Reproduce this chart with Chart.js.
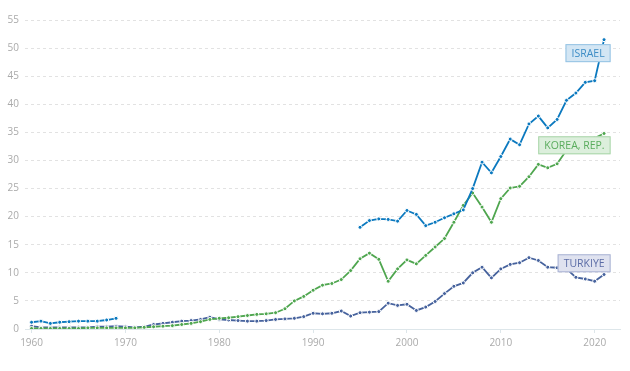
<!DOCTYPE html>
<html lang="en">
<head>
    <meta charset="UTF-8">
    <title>Israel, Korea, Turkiye</title>
    <script src="https://cdn.jsdelivr.net/npm/chart.js"></script>
    <style>
        html, body { margin: 0; padding: 0; background: #fff; }
        #chart-container { width: 630px; height: 371px; }
    </style>
</head>
<body>

<div id="chart-container">
    <canvas id="mainChart"></canvas>
</div>

<script>
    // years on the x axis
    const years = Array.from({ length: 62 }, (_, i) => 1960 + i);
    const xTicks = [1960, 1970, 1980, 1990, 2000, 2010, 2020];

    // Israel: 1960-1969, no data 1970-1994, then 1995-2021
    const israel = [
        1.2, 1.4, 1.0, 1.2, 1.3, 1.4, 1.4, 1.4, 1.6, 1.9,
        null, null, null, null, null, null, null, null, null, null,
        null, null, null, null, null, null, null, null, null, null,
        null, null, null, null, null,
        18.1, 19.3, 19.6, 19.5, 19.2,
        21.1, 20.4, 18.4, 19.0, 19.8, 20.5, 21.2, 25.0, 29.7, 27.8,
        30.7, 33.8, 32.8, 36.5, 37.9, 35.8, 37.3, 40.7, 42.0, 43.9,
        44.2, 51.5
    ];

    const korea = [
        0.1, 0.1, 0.1, 0.1, 0.1, 0.1, 0.2, 0.2, 0.2, 0.2,
        0.2, 0.2, 0.3, 0.4, 0.5, 0.6, 0.8, 1.0, 1.3, 1.7,
        1.9, 2.0, 2.2, 2.4, 2.6, 2.7, 2.9, 3.6, 5.0, 5.8,
        6.9, 7.8, 8.1, 8.8, 10.4, 12.5, 13.5, 12.4, 8.5, 10.7,
        12.3, 11.6, 13.1, 14.6, 16.1, 19.0, 22.0, 24.2, 21.7, 19.0,
        23.2, 25.1, 25.4, 27.1, 29.3, 28.7, 29.4, 31.8, 33.0, 33.5,
        34.0, 34.8
    ];

    const turkiye = [
        0.5, 0.3, 0.3, 0.3, 0.3, 0.3, 0.3, 0.4, 0.4, 0.5,
        0.4, 0.3, 0.4, 0.8, 1.0, 1.2, 1.4, 1.5, 1.7, 2.1,
        1.7, 1.6, 1.5, 1.4, 1.4, 1.5, 1.7, 1.8, 1.9, 2.2,
        2.8, 2.7, 2.8, 3.2, 2.3, 2.9, 3.0, 3.1, 4.6, 4.2,
        4.4, 3.3, 3.9, 4.9, 6.3, 7.6, 8.2, 10.0, 11.0, 9.1,
        10.7, 11.5, 11.8, 12.7, 12.2, 11.0, 10.9, 10.7, 9.2, 8.9,
        8.5, 9.7
    ];

    const seriesNames = ['ISRAEL', 'KOREA, REP.', 'TURKIYE'];
    // value at which each end label sits
    const labelValues = [49.1, 32.7, 11.7];

    const colors = ['#0b79bf', '#4fa64f', '#46629d'];
    const boxFill = ['#d3e6f4', '#dcefdc', '#dfe2ef'];
    const boxLine = ['#94c3e3', '#a9d6a9', '#aab3d4'];
    const boxText = ['#3d8dc6', '#5aac5d', '#5b6ca6'];

    function toPoints(values) {
        return years.map((yr, i) => ({ x: yr, y: values[i] }));
    }

    function makeSet(label, values, i) {
        return {
            label: label,
            data: toPoints(values),
            borderColor: colors[i],
            backgroundColor: colors[i],
            borderWidth: 1.8,
            pointRadius: 2,
            pointBorderWidth: 1,
            pointBorderColor: '#ffffff',
            pointBackgroundColor: colors[i],
            spanGaps: false,
            tension: 0,
            fill: false
        };
    }

    // labels boxes at the end of each line
    const endLabels = {
        id: 'endLabels',
        afterDatasetsDraw(chart) {
            const ctx = chart.ctx;
            const xs = chart.scales.x;
            const ys = chart.scales.y;
            ctx.save();
            ctx.font = '10.5px "Open Sans", sans-serif';
            ctx.textBaseline = 'middle';
            ctx.textAlign = 'center';
            seriesNames.forEach((name, i) => {
                const right = xs.getPixelForValue(2021.7);
                const cy = ys.getPixelForValue(labelValues[i]);
                const w = ctx.measureText(name).width + 12;
                const h = 18;
                const left = right - w;
                ctx.fillStyle = boxFill[i];
                ctx.strokeStyle = boxLine[i];
                ctx.lineWidth = 1;
                ctx.fillRect(left, cy - h / 2, w, h);
                ctx.strokeRect(left + 0.5, cy - h / 2 + 0.5, w - 1, h - 1);
                ctx.fillStyle = boxText[i];
                ctx.fillText(name, left + w / 2, cy + 0.5);
            });
            ctx.restore();
        }
    };

    const ctx = document.getElementById('mainChart').getContext('2d');

    new Chart(ctx, {
        type: 'line',
        data: {
            datasets: [
                makeSet('Israel', israel, 0),
                makeSet('Korea, Rep.', korea, 1),
                makeSet('Turkiye', turkiye, 2)
            ]
        },
        options: {
            responsive: true,
            maintainAspectRatio: false,
            animation: false,
            layout: { padding: { top: 20, right: 10, bottom: 18, left: 0 } },
            plugins: {
                legend: { display: false },
                tooltip: { enabled: false }
            },
            scales: {
                x: {
                    type: 'linear',
                    min: 1959.3,
                    max: 2022.7,
                    afterBuildTicks: (scale) => {
                        scale.ticks = xTicks.map(v => ({ value: v }));
                    },
                    grid: {
                        drawOnChartArea: false,
                        drawTicks: true,
                        tickLength: 4,
                        color: '#dde6ea'
                    },
                    border: { color: '#dde6ea', width: 1 },
                    ticks: {
                        color: '#aaaaaa',
                        font: { family: '"Open Sans", sans-serif', size: 10 },
                        maxRotation: 0,
                        padding: 4,
                        callback: (v) => String(v)
                    }
                },
                y: {
                    min: 0,
                    max: 55,
                    afterFit: (scale) => { scale.width = 25; },
                    ticks: {
                        stepSize: 5,
                        color: '#aaaaaa',
                        font: { family: '"Open Sans", sans-serif', size: 10 },
                        padding: 6
                    },
                    grid: {
                        color: '#e2e2e2',
                        drawTicks: false
                    },
                    border: { display: false, dash: [3, 3] }
                }
            }
        },
        plugins: [endLabels]
    });
</script>

</body>
</html>
